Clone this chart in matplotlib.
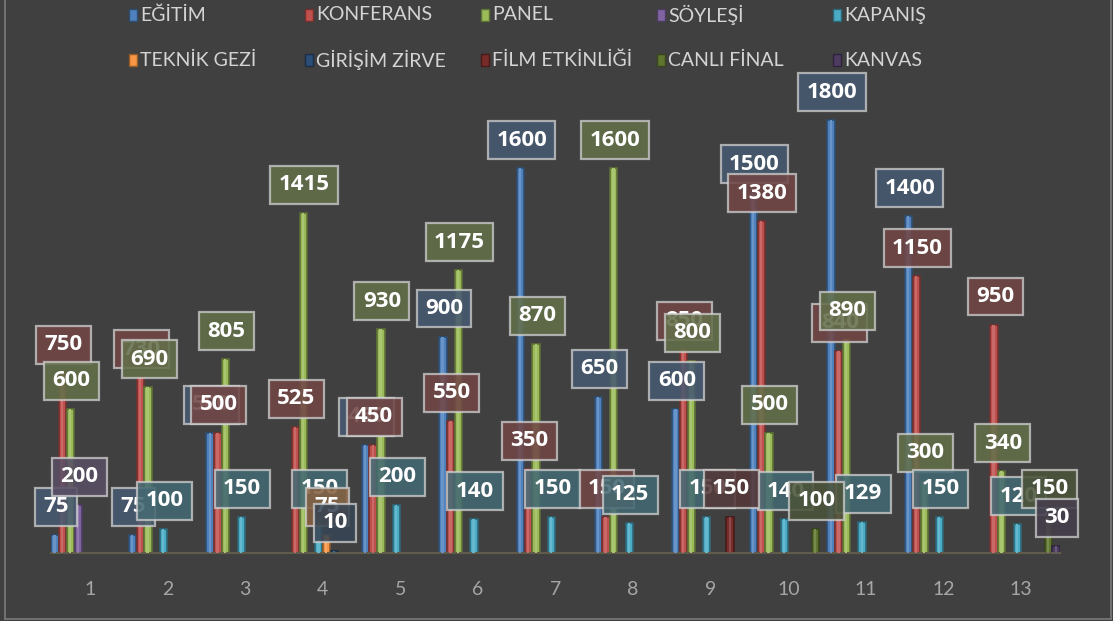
"""
Etkinlik katilim grafigi - koyu temali kume sutun grafigi.
"""

import matplotlib
matplotlib.use("Agg")
import matplotlib.pyplot as plt
import numpy as np
from matplotlib.colors import to_rgb
from matplotlib.lines import Line2D
from matplotlib.patches import Rectangle

W, H = 1113, 621
BG = "#404040"

categories = [str(i) for i in range(1, 14)]

series_names = ["EĞİTİM", "KONFERANS", "PANEL", "SÖYLEŞİ", "KAPANIŞ",
                "TEKNİK GEZİ", "GİRİŞİM ZİRVE", "FİLM ETKİNLİĞİ", "CANLI FİNAL", "KANVAS"]
series_colors = ["#4F81BD", "#C0504D", "#9BBB59", "#8064A2", "#4BACC6",
                 "#F79646", "#2C4D75", "#772C2A", "#5F7530", "#4D3B62"]

egitim = [75, 75, 500, 0, 450, 900, 1600, 650, 600, 1500, 1800, 1400, 0]
konferans = [750, 730, 500, 525, 450, 550, 350, 150, 850, 1380, 840, 1150, 950]
panel = [600, 690, 805, 1415, 930, 1175, 870, 1600, 800, 500, 890, 300, 340]
soylesi = [200, 0, 0, 0, 0, 0, 0, 0, 0, 0, 0, 0, 0]
kapanis = [0, 100, 150, 150, 200, 140, 150, 125, 150, 140, 129, 150, 120]
teknik_gezi = [0, 0, 0, 75, 0, 0, 0, 0, 0, 0, 0, 0, 0]
girisim_zirve = [0, 0, 0, 10, 0, 0, 0, 0, 0, 0, 0, 0, 0]
film_etkinligi = [0, 0, 0, 0, 0, 0, 0, 0, 150, 0, 0, 0, 0]
canli_final = [0, 0, 0, 0, 0, 0, 0, 0, 0, 100, 0, 0, 150]
kanvas = [0, 0, 0, 0, 0, 0, 0, 0, 0, 0, 0, 0, 30]

all_series = [egitim, konferans, panel, soylesi, kapanis,
              teknik_gezi, girisim_zirve, film_etkinligi, canli_final, kanvas]


def mix(color, amount, base=BG):
    c = np.array(to_rgb(color))
    b = np.array(to_rgb(base))
    return tuple(amount * c + (1 - amount) * b)


def darker(color, f=0.7):
    return tuple(np.array(to_rgb(color)) * f)


fig = plt.figure(figsize=(W / 100, H / 100), dpi=100, facecolor=BG)
ax = fig.add_axes([51 / W, (H - 553) / H, (1060 - 51) / W, (553 - 72) / H])
ax.set_facecolor(BG)

x = np.arange(1, len(categories) + 1)
slot = 0.1
bw = 0.094

# bars
for i, (vals, col) in enumerate(zip(all_series, series_colors)):
    xs = x + (i - 4.5) * slot
    v = np.array(vals, dtype=float)
    ax.bar(xs, v, width=bw, color=col, edgecolor=darker(col, 0.6), linewidth=1.2, zorder=2)
    # lighter stripe in the middle for a rounded look
    ax.bar(xs - bw * 0.05, v, width=bw * 0.32, color=mix("#ffffff", 0.15, col), linewidth=0, zorder=3)

# data labels
for i, (vals, col) in enumerate(zip(all_series, series_colors)):
    xs = x + (i - 4.5) * slot
    fc = mix(col, 0.38) + (0.88,)
    for xi, v in zip(xs, vals):
        if v == 0:
            continue
        ax.annotate(str(v), (xi, v), xytext=(1, 28), textcoords="offset pixels",
                    ha="center", va="center", color="white", fontsize=16,
                    fontweight="bold", family="Open Sans", zorder=5,
                    annotation_clip=False,
                    bbox=dict(boxstyle="square,pad=0.38", fc=fc,
                              ec=(0.82, 0.82, 0.82, 0.75), lw=1.6))

ax.set_xlim(0.5, len(categories) + 0.5)
ax.set_ylim(0, 2000)
ax.set_yticks([])
ax.set_xticks(x)
ax.set_xticklabels(categories, color="#a6a6a6", fontsize=14, family="Lato")
ax.tick_params(axis="x", length=0, pad=20)
for s in ["top", "left", "right"]:
    ax.spines[s].set_visible(False)
ax.spines["bottom"].set_color("#615b4c")
ax.spines["bottom"].set_linewidth(1.5)

# legend, two rows of five
for i, (name, col) in enumerate(zip(series_names, series_colors)):
    row, c = divmod(i, 5)
    x0 = 133 + c * 176
    y0 = 15 if row == 0 else 60
    fig.add_artist(Rectangle(((x0 - 4) / W, (H - y0 - 6) / H), 8 / W, 12 / H,
                             transform=fig.transFigure, fc=col, ec=darker(col, 0.6), lw=1))
    fig.text((x0 + 7) / W, (H - y0) / H, name, color="#d4d4d4", fontsize=14,
             family="Lato", ha="left", va="center")

# outer frame
fig.add_artist(Line2D([5 / W, 5 / W], [2 / H, 1], transform=fig.transFigure, color="#7a7a7a", lw=1.2))
fig.add_artist(Line2D([5 / W, 1111 / W], [2 / H, 2 / H], transform=fig.transFigure, color="#7a7a7a", lw=1.2))
fig.add_artist(Line2D([1111 / W, 1111 / W], [2 / H, 1], transform=fig.transFigure, color="#7a7a7a", lw=1.2))

fig.savefig("out.png", dpi=100, facecolor=BG)
